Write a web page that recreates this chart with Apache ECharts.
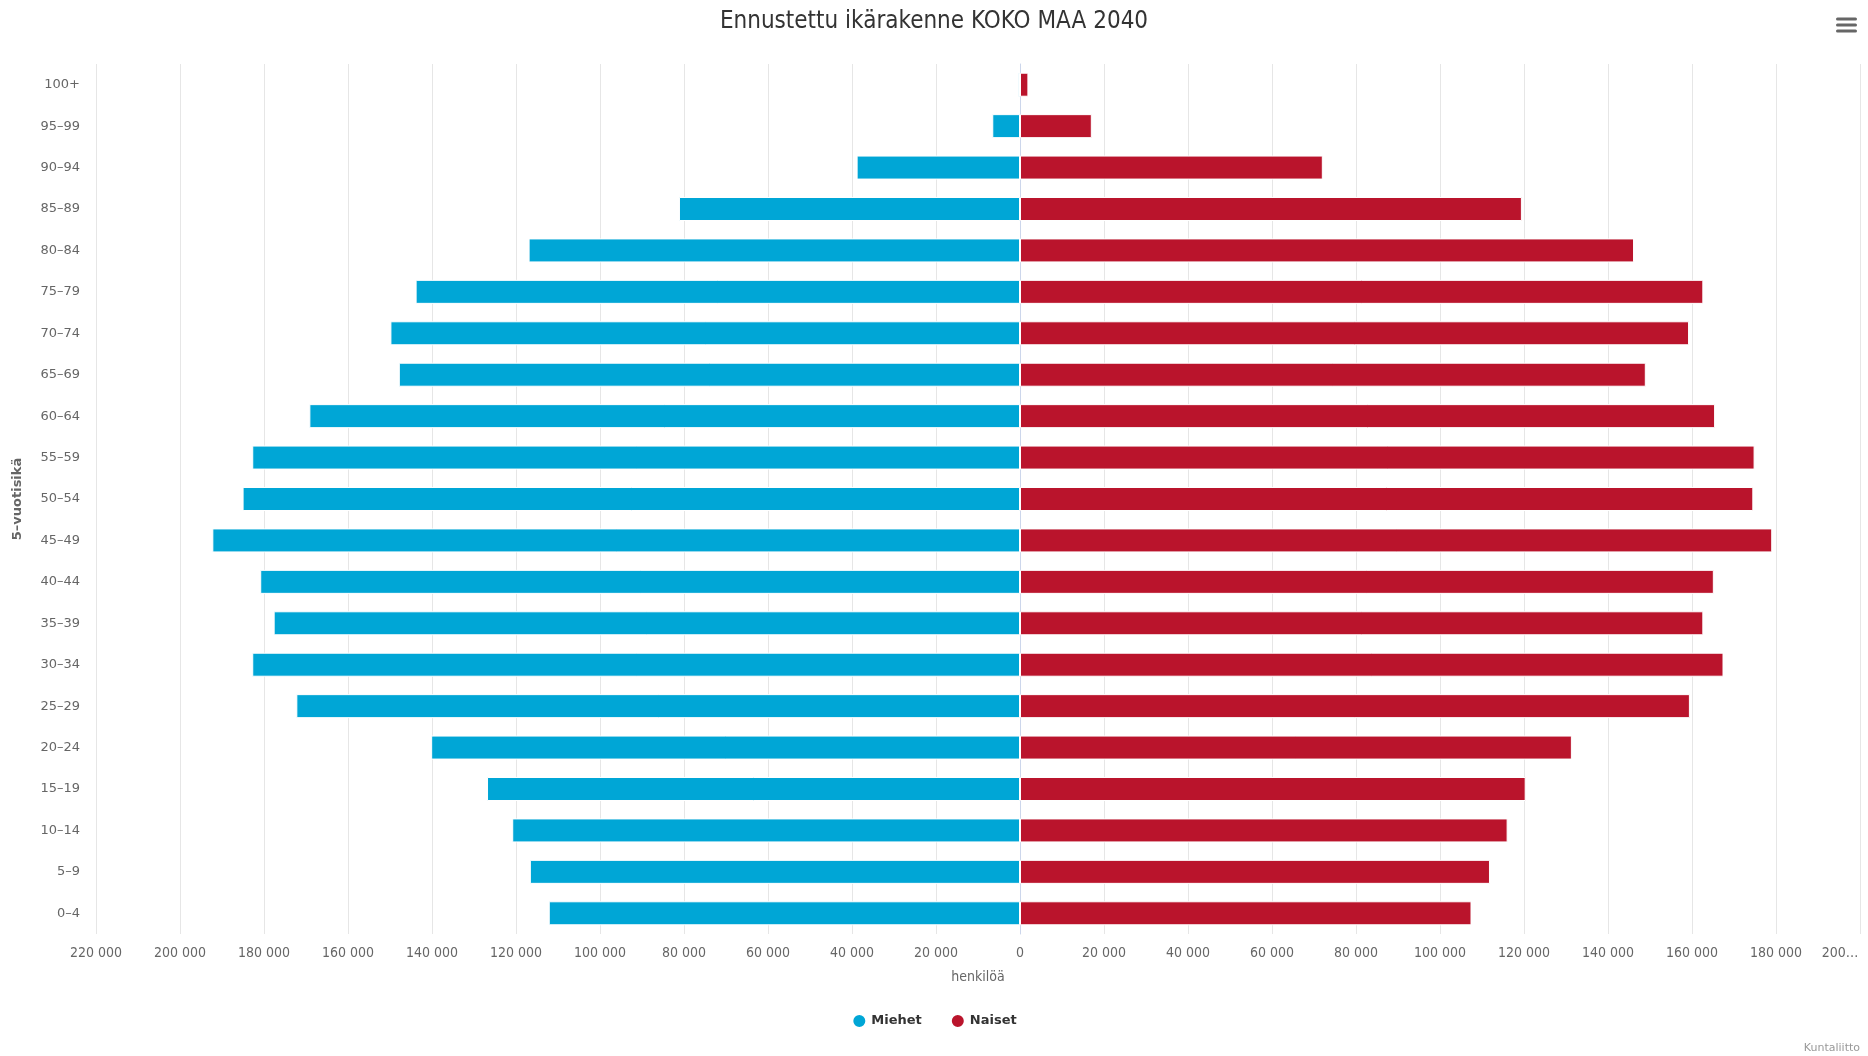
<!DOCTYPE html>
<html>
<head>
<meta charset="utf-8">
<script src="https://cdn.jsdelivr.net/npm/echarts@6/dist/echarts.min.js"></script>
<style>
html,body{margin:0;padding:0;background:#fff;}
#chart{width:1868px;height:1056px;}
</style>
</head>
<body>
<div id="chart"></div>
<script>
const categories = ['0–4','5–9','10–14','15–19','20–24','25–29','30–34','35–39','40–44','45–49','50–54','55–59','60–64','65–69','70–74','75–79','80–84','85–89','90–94','95–99','100+'];
const miehet = [112200,116700,120900,126900,140200,172300,182800,177700,180900,192300,185100,182800,169200,147900,149900,143900,117000,81200,38900,6600,400];
const naiset = [107500,111900,116100,120400,131400,159500,167500,162700,165200,179100,174600,174900,165500,149000,159300,162700,146200,119500,72100,17100,2000];
const seriesNames = ['Miehet','Naiset'];
const titleText = 'Ennustettu ikärakenne KOKO MAA 2040';
const xName = 'henkilöä';
const yName = '5–vuotisikä';
const credit = 'Kuntaliitto';

const condensed = '"DejaVu Sans Condensed", "Liberation Sans Narrow", "DejaVu Sans", sans-serif';

function fmt(v){
  if (v === 200000) return '{r|200…}';
  const a = Math.abs(v);
  return String(a).replace(/\B(?=(\d{3})+(?!\d))/g, ' ');
}

const chart = echarts.init(document.getElementById('chart'), null, {renderer:'canvas'});
chart.setOption({
  animation:false,
  backgroundColor:'#ffffff',
  title:{
    text:titleText,
    left:'center',
    top:5,
    textStyle:{fontFamily:condensed,fontSize:24,fontWeight:'normal',color:'#333333'}
  },
  legend:{
    data:seriesNames,
    left:'center',
    top:1008,
    icon:'circle',
    itemWidth:14,
    itemHeight:14,
    itemGap:28,
    textStyle:{fontFamily:'"DejaVu Sans", sans-serif',fontSize:13,fontWeight:'bold',color:'#333333'}
  },
  grid:{left:96,right:8,top:64,bottom:122,containLabel:false},
  xAxis:{
    type:'value',
    min:-220000,
    max:200000,
    interval:20000,
    name:xName,
    nameLocation:'middle',
    nameGap:36,
    nameTextStyle:{fontFamily:condensed,fontSize:14,color:'#666666'},
    axisLine:{show:false},
    axisTick:{show:false},
    splitLine:{show:true,lineStyle:{color:'#e6e6e6',width:1}},
    axisLabel:{
      margin:12,
      showMaxLabel:true,
      showMinLabel:true,
      fontFamily:condensed,
      fontSize:14,
      color:'#666666',
      formatter:fmt,
      rich:{r:{fontFamily:condensed,fontSize:14,color:'#666666',padding:[0,40,0,0]}}
    }
  },
  yAxis:{
    type:'category',
    data:categories,
    name:yName,
    nameLocation:'middle',
    nameRotate:90,
    nameGap:72,
    nameTextStyle:{fontFamily:'"DejaVu Sans", sans-serif',fontSize:13,fontWeight:'bold',color:'#666666'},
    axisLine:{show:true,lineStyle:{color:'#ccd6eb',width:1}},
    axisTick:{show:false},
    splitLine:{show:false},
    axisLabel:{margin:16,fontFamily:'"DejaVu Sans", sans-serif',fontSize:13,color:'#666666'}
  },
  series:[
    {
      name:seriesNames[0],
      type:'bar',
      data:miehet.map(v=>-v),
      barWidth:24,
      barGap:'-100%',
      itemStyle:{color:'#00a6d6',borderColor:'#ffffff',borderWidth:1}
    },
    {
      name:seriesNames[1],
      type:'bar',
      data:naiset,
      barWidth:24,
      barGap:'-100%',
      itemStyle:{color:'#ba142c',borderColor:'#ffffff',borderWidth:1}
    }
  ],
  graphic:[
    {type:'rect',shape:{x:1836,y:17.5,width:21,height:3,r:1.5},style:{fill:'#666666'}},
    {type:'rect',shape:{x:1836,y:23.5,width:21,height:3,r:1.5},style:{fill:'#666666'}},
    {type:'rect',shape:{x:1836,y:29.5,width:21,height:3,r:1.5},style:{fill:'#666666'}},
    {type:'text',right:8,top:1043,style:{text:credit,fontFamily:'"DejaVu Sans", sans-serif',fontSize:11,fill:'#999999'}}
  ]
});
</script>
</body>
</html>
